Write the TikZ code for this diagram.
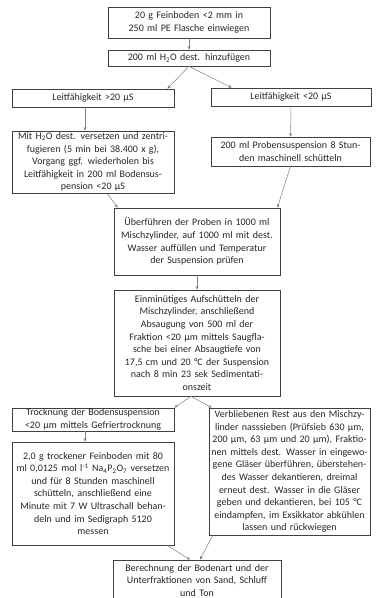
\documentclass[tikz,border=0pt]{standalone}
\usepackage{fontspec}
\setmainfont{Carlito}
\usetikzlibrary{arrows.meta,calc}

\begin{document}
\begin{tikzpicture}[x=1pt,y=-1pt,
  stepbox/.style={draw=black!75, line width=0.7pt, align=center, inner xsep=1pt, inner ysep=1pt,
    font=\fontsize{10}{12.6}\selectfont, text=black!85},
  flow/.style={draw=black!50, line width=0.5pt, -{Stealth[length=3.5pt,width=3pt]}}]

\useasboundingbox (0,0) rectangle (377,598);

% upper part
\node[stepbox, minimum width=162, minimum height=31, text width=160] (einwaage) at (189,22.5)
  {20 g Feinboden <2 mm in\\250 ml PE Flasche einwiegen};
\node[stepbox, minimum width=162, minimum height=16, text width=160] (wasser) at (189,58)
  {200 ml H\textsubscript{2}O dest. hinzufügen};
\node[stepbox, minimum width=162, minimum height=18, text width=160] (lfhoch) at (93,98)
  {Leitfähigkeit >20 µS};
\node[stepbox, minimum width=160, minimum height=18, text width=158] (lfnied) at (291,97)
  {Leitfähigkeit <20 µS};
\node[stepbox, minimum width=162, minimum height=62, text width=160] (zentri) at (93,162)
  {Mit H\textsubscript{2}O dest. versetzen und zentri-\\fugieren (5 min bei 38.400 x g),\\Vorgang ggf. wiederholen bis\\Leitfähigkeit in 200 ml Bodensus-\\pension <20 µS};
\node[stepbox, minimum width=159, minimum height=29, text width=157] (schuett) at (290.5,151.5)
  {200 ml Probensuspension 8 Stun-\\den maschinell schütteln};

% middle part
\node[stepbox, minimum width=166, minimum height=67, text width=164] (zylinder) at (197,241.5)
  {Überführen der Proben in 1000 ml\\Mischzylinder, auf 1000 ml mit dest.\\Wasser auffüllen und  Temperatur\\der Suspension prüfen};
\node[stepbox, minimum width=166, minimum height=106, text width=164] (absaug) at (197,343)
  {Einminütiges Aufschütteln der\\Mischzylinder, anschließend\\Absaugung von 500 ml der\\Fraktion <20 µm mittels Saugfla-\\sche bei einer Absaugtiefe von\\17,5 cm und 20 °C der Suspension\\nach 8 min 23 sek Sedimentati-\\onszeit};

% lower part
\node[stepbox, minimum width=162, minimum height=23, text width=160] (gefrier) at (93,419.5)
  {Trocknung der Bodensuspension\\<20 µm mittels Gefriertrocknung};
\node[stepbox, minimum width=162, minimum height=103, text width=160] (sedi) at (93,493.5)
  {2,0 g trockener Feinboden mit 80\\ml 0,0125 mol l\textsuperscript{-1} Na\textsubscript{4}P\textsubscript{2}O\textsubscript{7} versetzen\\und für 8 Stunden maschinell\\schütteln, anschließend eine\\Minute mit 7 W Ultraschall behan-\\deln und im Sedigraph 5120\\messen};
\node[stepbox, minimum width=161, minimum height=127, text width=159] (sieb) at (289.5,471.5)
  {Verbliebenen Rest aus den Mischzy-\\linder nasssieben (Prüfsieb 630 µm,\\200 µm, 63 µm und 20 µm), Fraktio-\\nen mittels dest. Wasser in eingewo-\\gene Gläser überführen, überstehen-\\des Wasser dekantieren, dreimal\\erneut dest.  Wasser in die Gläser\\geben und dekantieren, bei 105 °C\\eindampfen, im Exsikkator abkühlen\\lassen und rückwiegen};
\node[stepbox, minimum width=168, minimum height=41, text width=166] (bodenart) at (197,580.5)
  {Berechnung der Bodenart und der\\Unterfraktionen von Sand, Schluff\\und Ton};

% connectors
\draw[flow] (einwaage) -- (wasser);
\draw[flow] (wasser.south) -- ($(lfhoch.north east)+(-7,0)$);
\draw[flow] (wasser.south) -- ($(lfnied.north west)+(21,0)$);
\draw[flow] ($(lfhoch.south)+(-8,0)$) -- ($(zentri.north)+(-8,0)$);
\draw[flow] (lfnied) -- (schuett);
\draw[flow] ($(zentri.south)+(14,0)$) -- ($(zylinder.north west)+(4,0)$);
\draw[flow] (schuett.south) -- ($(zylinder.north east)+(-3,0)$);
\draw[flow] (zylinder) -- (absaug);
\draw[flow] ($(absaug.south)+(-6,0)$) -- (gefrier.north east);
\draw[flow] ($(absaug.south)+(-6,0)$) -- ($(sieb.north west)+(3,0)$);
\draw[flow] ($(gefrier.south)+(-8,0)$) -- ($(sedi.north)+(-8,0)$);
\draw[flow] ($(sedi.south east)+(-7,0)$) -- ($(bodenart.north)+(-7,0)$);
\draw[flow] ($(sieb.south west)+(4,0)$) -- ($(bodenart.north)+(3,0)$);

\end{tikzpicture}
\end{document}
